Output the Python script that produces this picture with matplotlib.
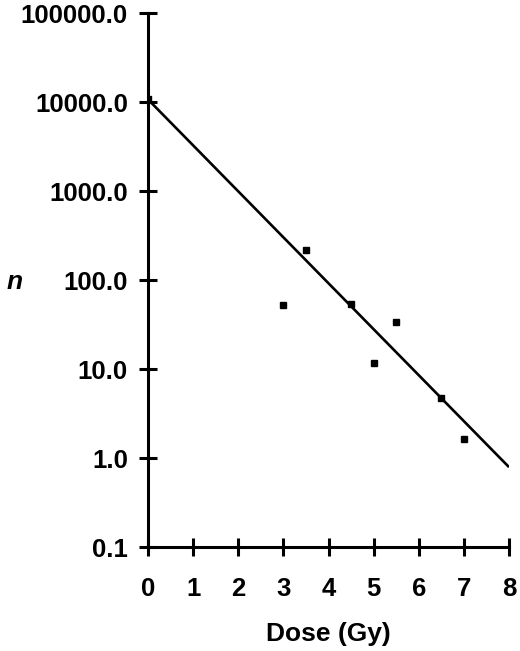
import numpy as np
import matplotlib
matplotlib.use("Agg")
import matplotlib.pyplot as plt
from matplotlib.ticker import FixedLocator, FixedFormatter, NullLocator

plt.rcParams['font.family'] = ['Liberation Sans', 'DejaVu Sans']

# measured points
dose = [0, 3, 3.5, 4.5, 5, 5.5, 6.5, 7]
n_vals = [10700, 52, 220, 54, 11.8, 34, 4.7, 1.62]

# fitted line (end points)
fit_dose = [0, 8]
fit_n = [10700, 0.79]

yticks = [0.1, 1, 10, 100, 1000, 10000, 100000]
ytick_labels = ['0.1', '1.0', '10.0', '100.0', '1000.0', '10000.0', '100000.0']
xticks = [0, 1, 2, 3, 4, 5, 6, 7, 8]

fig = plt.figure(figsize=(5.2, 6.51), dpi=100)
ax = fig.add_axes([0.2846, 0.1597, 0.6943, 0.8203])

ax.plot(fit_dose, fit_n, color='black', lw=1.9, solid_capstyle='butt', zorder=2)
ax.plot(dose, n_vals, 's', color='black', ms=5, zorder=3)

ax.set_yscale('log')
ax.set_ylim(0.1, 100000)
ax.set_xlim(0, 8)
ax.yaxis.set_major_locator(FixedLocator(yticks))
ax.yaxis.set_major_formatter(FixedFormatter(ytick_labels))
ax.yaxis.set_minor_locator(NullLocator())
ax.set_xticks(xticks)

for s in ['top', 'right']:
    ax.spines[s].set_visible(False)
for s in ['left', 'bottom']:
    ax.spines[s].set_linewidth(2.2)

ax.tick_params(axis='both', direction='inout', length=13, width=2.2)
ax.tick_params(axis='y', pad=8)
ax.tick_params(axis='x', pad=15)
for lab in ax.get_xticklabels() + ax.get_yticklabels():
    lab.set_fontsize(18.5)
    lab.set_fontweight('bold')

ax.set_xlabel('Dose (Gy)', fontsize=19, fontweight='bold', labelpad=15)
ax.set_ylabel('n', fontsize=19, fontweight='bold', style='italic', rotation=0,
              va='center')
ax.yaxis.set_label_coords(-0.37, 0.496)

fig.savefig('out.png', dpi=100)
